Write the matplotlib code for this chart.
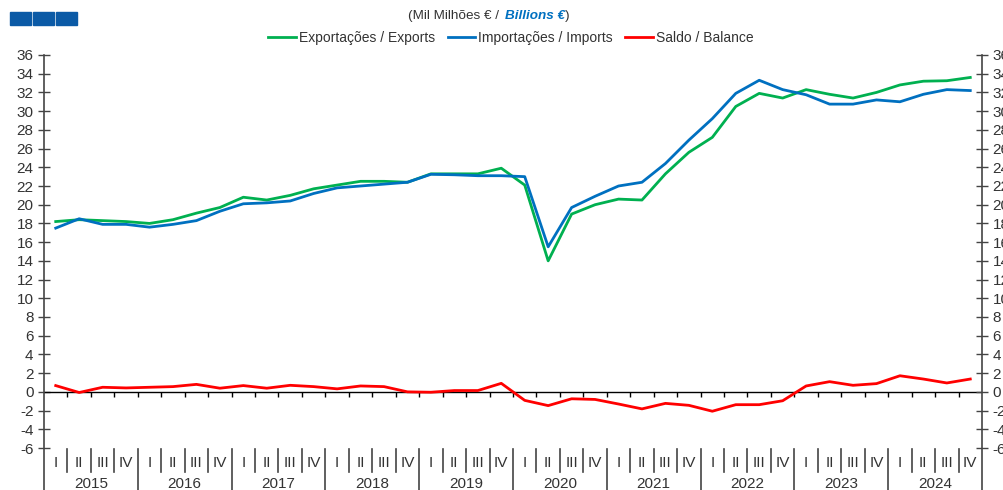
import matplotlib

matplotlib.use("Agg")
import matplotlib.pyplot as plt
import numpy as np
from matplotlib.patches import Rectangle

plt.rcParams["font.family"] = ["Liberation Sans", "DejaVu Sans"]

# quarterly values, 2015 Q1 .. 2024 Q4 (billions EUR)
years = [str(y) for y in range(2015, 2025)]
quarters = ["I", "II", "III", "IV"]

exports = [
    18.2, 18.4, 18.3, 18.2,
    18.0, 18.4, 19.1, 19.7,
    20.8, 20.5, 21.0, 21.7,
    22.1, 22.5, 22.5, 22.4,
    23.3, 23.3, 23.3, 23.9,
    22.1, 14.0, 19.0, 20.0,
    20.6, 20.5, 23.3, 25.6,
    27.2, 30.5, 31.9, 31.4,
    32.3, 31.8, 31.4, 32.0,
    32.8, 33.2, 33.25, 33.6,
]
imports = [
    17.5, 18.5, 17.9, 17.9,
    17.6, 17.9, 18.3, 19.3,
    20.1, 20.2, 20.4, 21.2,
    21.8, 22.0, 22.2, 22.4,
    23.25, 23.2, 23.1, 23.1,
    23.0, 15.5, 19.7, 20.9,
    22.0, 22.4, 24.4, 26.9,
    29.2, 31.9, 33.3, 32.3,
    31.75, 30.75, 30.75, 31.2,
    31.0, 31.8, 32.3, 32.2,
]
balance = [
    0.67, -0.07, 0.49, 0.42,
    0.49, 0.56, 0.80, 0.39,
    0.67, 0.39, 0.70, 0.56,
    0.32, 0.63, 0.56, 0.0,
    -0.04, 0.14, 0.14, 0.91,
    -0.91, -1.47, -0.74, -0.81,
    -1.30, -1.82, -1.23, -1.44,
    -2.07, -1.37, -1.37, -0.95,
    0.63, 1.09, 0.70, 0.88,
    1.72, 1.37, 0.95, 1.37,
]

GREEN = "#00B050"
BLUE = "#0070C0"
RED = "#FF0000"
GREY = "#333333"
AXIS_FS = 11

W, H = 1004, 490
fig = plt.figure(figsize=(W / 100, H / 100), dpi=100)
# plot box in pixels: x 44..982, y 55..448
ax = fig.add_axes([44 / W, 1 - 448 / H, 938 / W, 393 / H])

x = np.arange(len(exports))
ax.plot(x, exports, color=GREEN, lw=2.0, label="Exportações / Exports", zorder=3)
ax.plot(x, imports, color=BLUE, lw=2.0, label="Importações / Imports", zorder=3)
ax.plot(x, balance, color=RED, lw=2.0, label="Saldo / Balance", zorder=3)

ax.set_xlim(-0.5, len(x) - 0.5)
ax.set_ylim(-6, 36)
yticks = np.arange(-6, 37, 2)
ax.set_yticks(yticks)
ax.set_yticklabels([str(v) for v in yticks])
ax.set_xticks([])
for s in ax.spines.values():
    s.set_visible(False)
ax.tick_params(axis="y", direction="inout", length=9, width=1, color="#444444",
               labelsize=AXIS_FS, labelcolor=GREY, pad=3)

# right axis repeats the scale (labels run off the edge, as in the source)
ax2 = ax.twinx()
ax2.set_ylim(ax.get_ylim())
ax2.set_yticks(yticks)
ax2.set_yticklabels([str(v) for v in yticks])
for s in ax2.spines.values():
    s.set_visible(False)
ax2.tick_params(axis="y", direction="inout", length=9, width=1, color="#444444",
                labelsize=AXIS_FS, labelcolor=GREY, pad=3)

# zero line with quarter tick marks
ax.axhline(0, color="black", lw=1, zorder=2)
bounds = np.arange(len(x) - 1) + 0.5
ax.vlines(bounds, -0.5, 0, color="black", lw=1, zorder=2)

# vertical axis lines, running down through the category band
tr = ax.get_xaxis_transform()
bottom = -(H - 448) / 393 - 0.01
for xv in (-0.5, len(x) - 0.5):
    ax.plot([xv, xv], [1, bottom], color="#444444", lw=1.2, transform=tr, clip_on=False)

# quarter / year category axis below the plot
q_top, q_bot = -1 / 393, -24 / 393
for b in bounds:
    is_year = (b + 0.5) % 4 == 0
    ax.plot([b, b], [q_top, bottom if is_year else q_bot], color="#444444", lw=1.2,
            transform=tr, clip_on=False)
for i in range(len(x)):
    ax.text(i, -15 / 393, quarters[i % 4], transform=tr, ha="center", va="center",
            fontsize=AXIS_FS, color=GREY)
for k, yr in enumerate(years):
    ax.text(4 * k + 1.5, -36 / 393, yr, transform=tr, ha="center", va="center",
            fontsize=AXIS_FS, color=GREY)

# legend and unit title
fig.legend(loc="center", bbox_to_anchor=(511 / W, 1 - 38 / H), ncol=3, frameon=False,
           fontsize=10, handlelength=2.0, handletextpad=0.2, columnspacing=0.9,
           labelcolor=GREY)
t1 = fig.text(503 / W, 1 - 16 / H, "(Mil Milhões € / ", ha="right", va="center",
              fontsize=9.7, color=GREY)
t2 = fig.text(505 / W, 1 - 16 / H, "Billions €", ha="left", va="center",
              fontsize=9.7, color=BLUE, fontweight="bold", fontstyle="italic")
ax.annotate(")", xy=(1, 0.5), xycoords=t2, ha="left", va="center",
            fontsize=9.7, color=GREY, annotation_clip=False)

# small logo blocks top-left
for x0 in (10, 33, 56):
    fig.patches.append(Rectangle((x0 / W, 1 - 25 / H), 21 / W, 13 / H,
                                 transform=fig.transFigure, color="#0B5AA6"))

fig.savefig("out.png", dpi=100)
